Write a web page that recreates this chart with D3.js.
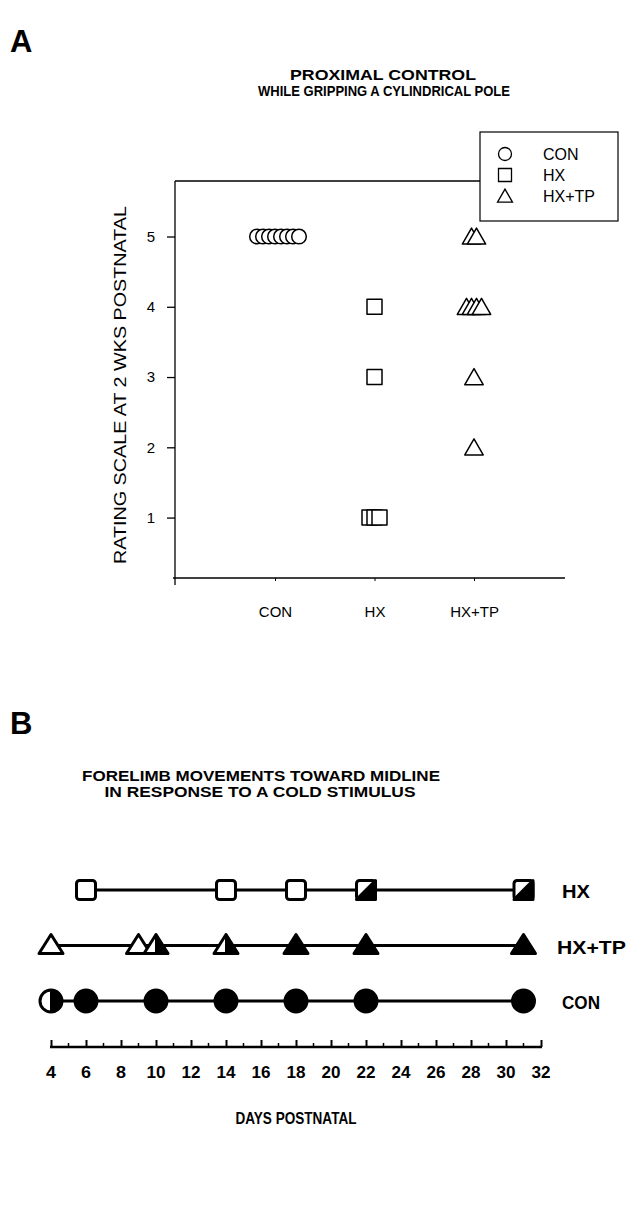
<!DOCTYPE html>
<html><head><meta charset="utf-8">
<script src="https://cdn.jsdelivr.net/npm/d3@7"></script>
<style>
html,body{margin:0;padding:0;background:#fff;}
svg{display:block;font-family:"Liberation Sans",Arial,sans-serif;}
</style></head>
<body>
<svg id="chart" width="628" height="1219"></svg>
<script>
// ---------- Panel A data ----------
const groupsA = ["CON", "HX", "HX+TP"];
const ratingsCON = [5, 5, 5, 5, 5, 5, 5, 5];
const ratingsHX = [4, 3, 1, 1, 1];
const ratingsHXTP = [5, 5, 4, 4, 4, 4, 3, 2];
const yTicksA = [1, 2, 3, 4, 5];
const yDomainA = [0.14, 5.79];

// ---------- Panel B data ----------
const seriesB = ["HX", "HX+TP", "CON"];
const daysHX = [6, 14, 18, 22, 31];
const stateHX = ["open", "open", "open", "half", "half"];
const daysHXTP = [4, 9, 10, 14, 18, 22, 31];
const stateHXTP = ["open", "open", "half", "half", "filled", "filled", "filled"];
const daysCON = [4, 6, 10, 14, 18, 22, 31];
const stateCON = ["half", "filled", "filled", "filled", "filled", "filled", "filled"];
const xTicksB = [4, 6, 8, 10, 12, 14, 16, 18, 20, 22, 24, 26, 28, 30, 32];

const svg = d3.select("#chart");
const FONT = "Liberation Sans, Arial, sans-serif";

// ================= PANEL A =================
svg.append("text").attr("x", 10).attr("y", 52).attr("font-size", 31).attr("font-weight", "bold").text("A");

svg.append("text").attr("x", 383).attr("y", 80).attr("text-anchor", "middle")
  .attr("font-size", 15.5).attr("font-weight", "bold")
  .attr("textLength", 186).attr("lengthAdjust", "spacingAndGlyphs").text("PROXIMAL CONTROL");
svg.append("text").attr("x", 384).attr("y", 96).attr("text-anchor", "middle")
  .attr("font-size", 15.5).attr("font-weight", "bold")
  .attr("textLength", 252).attr("lengthAdjust", "spacingAndGlyphs").text("WHILE GRIPPING A CYLINDRICAL POLE");

const A = {left: 175, top: 181, bottom: 578, right: 565};
const yA = d3.scaleLinear().domain(yDomainA).range([A.bottom, A.top]);
const xA = d3.scalePoint().domain(groupsA).range([275, 474]);

const gA = svg.append("g");
gA.append("line").attr("x1", A.left).attr("x2", 480).attr("y1", A.top).attr("y2", A.top).attr("stroke", "#000").attr("stroke-width", 1.3);
gA.append("line").attr("x1", A.left - 2).attr("x2", A.right).attr("y1", A.bottom).attr("y2", A.bottom).attr("stroke", "#000").attr("stroke-width", 1.3);
gA.append("line").attr("x1", A.left).attr("x2", A.left).attr("y1", A.top).attr("y2", A.bottom + 7).attr("stroke", "#000").attr("stroke-width", 1.3);

// y axis
const yAxisA = d3.axisLeft(yA).tickValues(yTicksA).tickSize(8).tickPadding(14).tickFormat(d3.format("d"));
const yAxG = gA.append("g").attr("transform", `translate(${A.left},0)`).call(yAxisA);
yAxG.select(".domain").remove();
yAxG.selectAll(".tick line").attr("stroke", "#000").attr("stroke-width", 1.3);
yAxG.selectAll(".tick text").attr("x", -20).attr("text-anchor", "end")
  .attr("font-size", 15).attr("font-family", FONT).attr("fill", "#000");

// x axis
const xAxisA = d3.axisBottom(xA).tickSize(3).tickPadding(25);
const xAxG = gA.append("g").attr("transform", `translate(0,${A.bottom})`).call(xAxisA);
xAxG.select(".domain").remove();
xAxG.selectAll(".tick line").attr("stroke", "#000").attr("stroke-width", 1);
xAxG.selectAll(".tick text").attr("font-size", 15).attr("font-family", FONT).attr("fill", "#000");

svg.append("text").attr("transform", "translate(126,385) rotate(-90)").attr("text-anchor", "middle")
  .attr("font-size", 17).attr("textLength", 358).attr("lengthAdjust", "spacingAndGlyphs")
  .text("RATING SCALE AT 2 WKS POSTNATAL");

function symPath(type, s) {
  if (type === "square") return `M${-s},${-s}H${s}V${s}H${-s}Z`;
  return `M0,${-s * 1.05}L${s * 1.15},${s * 0.95}L${-s * 1.15},${s * 0.95}Z`;
}
const seriesA = [
  {group: "CON", vals: ratingsCON, type: "circle", step: 6},
  {group: "HX", vals: ratingsHX, type: "square", step: 5},
  {group: "HX+TP", vals: ratingsHXTP, type: "triangle", step: 5}
];
seriesA.forEach(s => {
  const counts = d3.rollup(s.vals, v => v.length, d => d);
  const seen = new Map();
  const pts = s.vals.map(v => {
    const n = counts.get(v);
    const i = seen.get(v) || 0; seen.set(v, i + 1);
    return {v, off: (i - (n - 1) / 2) * s.step};
  });
  const g = gA.append("g");
  pts.forEach(p => {
    const cx = xA(s.group) + p.off + (s.group === "CON" ? 3 : 0), cy = yA(p.v);
    if (s.type === "circle") {
      g.append("circle").attr("cx", cx).attr("cy", cy).attr("r", 7.3)
        .attr("fill", "#fff").attr("stroke", "#000").attr("stroke-width", 1.5);
    } else {
      g.append("path").attr("d", symPath(s.type, s.type === "square" ? 7.5 : 8))
        .attr("transform", `translate(${cx},${cy})`)
        .attr("fill", "#fff").attr("stroke", "#000").attr("stroke-width", 1.5).attr("stroke-linejoin", "round");
    }
  });
});

// legend
const lg = svg.append("g");
lg.append("rect").attr("x", 480).attr("y", 132).attr("width", 138).attr("height", 89)
  .attr("fill", "#fff").attr("stroke", "#000").attr("stroke-width", 1.2);
const legItems = [{t: "CON", type: "circle"}, {t: "HX", type: "square"}, {t: "HX+TP", type: "triangle"}];
legItems.forEach((d, i) => {
  const cy = 154 + i * 21, cx = 505;
  if (d.type === "circle") lg.append("circle").attr("cx", cx).attr("cy", cy).attr("r", 6.5).attr("fill", "none").attr("stroke", "#000").attr("stroke-width", 1.3);
  else lg.append("path").attr("d", symPath(d.type, 6.5)).attr("transform", `translate(${cx},${cy})`).attr("fill", "none").attr("stroke", "#000").attr("stroke-width", 1.3);
  lg.append("text").attr("x", 543).attr("y", cy + 6).attr("font-size", 16).text(d.t);
});

// ================= PANEL B =================
svg.append("text").attr("x", 10).attr("y", 734).attr("font-size", 31).attr("font-weight", "bold").text("B");

svg.append("text").attr("x", 261).attr("y", 781).attr("text-anchor", "middle")
  .attr("font-size", 15.5).attr("font-weight", "bold")
  .attr("textLength", 358).attr("lengthAdjust", "spacingAndGlyphs").text("FORELIMB MOVEMENTS TOWARD MIDLINE");
svg.append("text").attr("x", 260).attr("y", 797).attr("text-anchor", "middle")
  .attr("font-size", 15.5).attr("font-weight", "bold")
  .attr("textLength", 311).attr("lengthAdjust", "spacingAndGlyphs").text("IN RESPONSE TO A COLD STIMULUS");

const xB = d3.scaleLinear().domain([4, 32]).range([51, 541]);
const yB = d3.scalePoint().domain(seriesB).range([890, 1001]);
const axisYB = 1047;

const xAxisB = d3.axisTop(xB).tickValues(xTicksB).tickSize(7).tickFormat(d3.format("d"));
const xbG = svg.append("g").attr("transform", `translate(0,${axisYB})`).call(xAxisB);
xbG.select(".domain").attr("stroke-width", 2.5).attr("d", `M${xB(4) - 1},0H${xB(32) + 1}`);
xbG.selectAll(".tick line").attr("stroke-width", 2);
xbG.selectAll(".tick text").remove();
svg.append("g").selectAll("line").data(d3.range(5, 32, 2)).join("line")
  .attr("x1", d => xB(d)).attr("x2", d => xB(d)).attr("y1", axisYB).attr("y2", axisYB - 4)
  .attr("stroke", "#000").attr("stroke-width", 1.5);
svg.append("g").selectAll("text").data(xTicksB).join("text")
  .attr("x", d => xB(d)).attr("y", axisYB + 31).attr("text-anchor", "middle")
  .attr("font-size", 17).attr("font-weight", "bold")
  .attr("textLength", d => d >= 10 ? 19 : 10).attr("lengthAdjust", "spacingAndGlyphs")
  .text(d => d);

svg.append("text").attr("x", 296).attr("y", 1124).attr("text-anchor", "middle")
  .attr("font-size", 17).attr("font-weight", "bold")
  .attr("textLength", 121).attr("lengthAdjust", "spacingAndGlyphs").text("DAYS POSTNATAL");

const rowsB = [
  {name: "HX", days: daysHX, state: stateHX, type: "square", lx: 562, lw: 28},
  {name: "HX+TP", days: daysHXTP, state: stateHXTP, type: "triangle", lx: 557, lw: 69},
  {name: "CON", days: daysCON, state: stateCON, type: "circle", lx: 562, lw: 38}
];
rowsB.forEach(r => {
  const cy = yB(r.name);
  const g = svg.append("g");
  g.append("line").attr("x1", xB(d3.min(r.days))).attr("x2", xB(d3.max(r.days)))
    .attr("y1", cy).attr("y2", cy).attr("stroke", "#000").attr("stroke-width", 3);
  r.days.forEach((d, i) => {
    const cx = xB(d), st = r.state[i];
    const sg = g.append("g").attr("transform", `translate(${cx},${cy})`);
    if (r.type === "square") {
      const s = 9.5;
      sg.append("rect").attr("x", -s).attr("y", -s).attr("width", 2 * s).attr("height", 2 * s).attr("rx", 3)
        .attr("fill", st === "filled" ? "#000" : "#fff").attr("stroke", "#000").attr("stroke-width", 3);
      if (st === "half") sg.append("path").attr("d", `M${s},${-s}L${s},${s}L${-s},${s}Z`).attr("fill", "#000").attr("stroke", "#000").attr("stroke-width", 3).attr("stroke-linejoin", "round");
    } else if (r.type === "triangle") {
      const tri = "M0,-11L12,8L-12,8Z";
      sg.append("path").attr("d", tri).attr("fill", st === "filled" ? "#000" : "#fff").attr("stroke", "#000").attr("stroke-width", 3).attr("stroke-linejoin", "round");
      if (st === "half") sg.append("path").attr("d", "M0,-11L12,8L0,8Z").attr("fill", "#000").attr("stroke", "#000").attr("stroke-width", 2).attr("stroke-linejoin", "round");
    } else {
      const rr = 11;
      sg.append("circle").attr("r", rr).attr("fill", st === "filled" ? "#000" : "#fff").attr("stroke", "#000").attr("stroke-width", 3);
      if (st === "half") sg.append("path").attr("d", `M0,${-rr}A${rr},${rr} 0 0 1 0,${rr}Z`).attr("fill", "#000").attr("stroke", "#000").attr("stroke-width", 2);
    }
  });
  svg.append("text").attr("x", r.lx).attr("y", cy + 8).attr("font-size", 18).attr("font-weight", "bold")
    .attr("textLength", r.lw).attr("lengthAdjust", "spacingAndGlyphs")
    .text(r.name);
});
</script>
</body></html>
